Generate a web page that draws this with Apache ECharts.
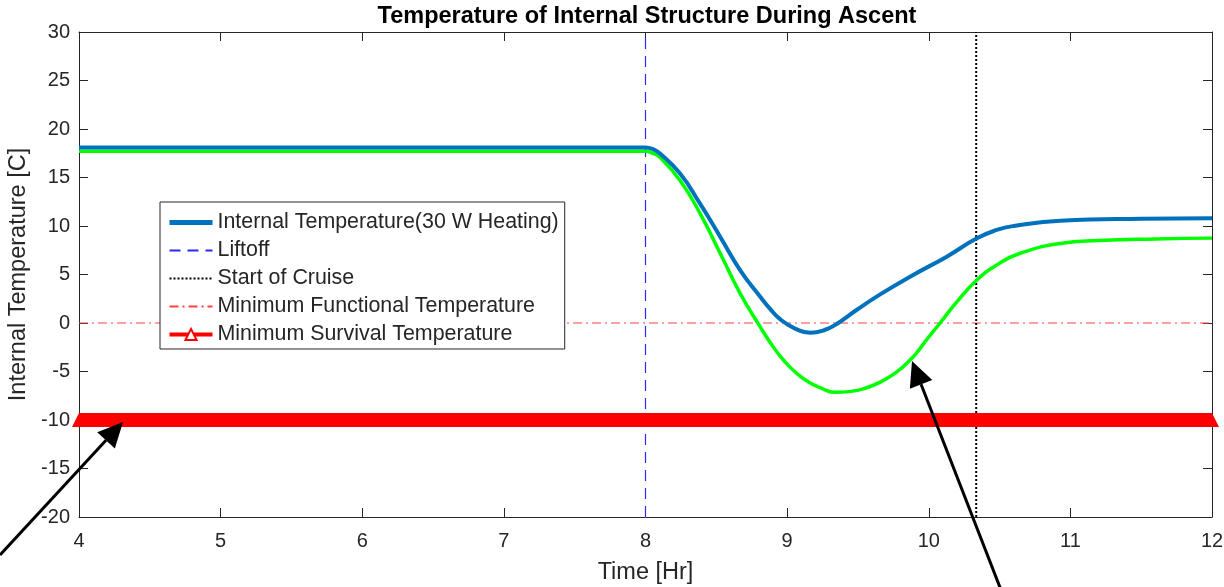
<!DOCTYPE html>
<html>
<head>
<meta charset="utf-8">
<script src="https://cdn.jsdelivr.net/npm/echarts@6/dist/echarts.min.js"></script>
<style>
html,body{margin:0;padding:0;background:#fff;}
#chart{width:1224px;height:587px;}
</style>
</head>
<body>
<div id="chart"></div>
<script>
// ---- data ----
const blueX = [4, 8.0, 8.05, 8.1, 8.244, 8.385, 8.527, 8.668, 8.81, 8.88, 8.95, 9.06, 9.162, 9.26, 9.35, 9.49, 9.657, 9.89, 10.127, 10.34, 10.48, 10.6, 10.93, 11.5, 12];
const blueY = [18.1, 18.1, 17.95, 17.5, 15.4, 12.3, 8.9, 5.46, 2.7, 1.45, 0.4, -0.6, -1.0, -0.75, -0.1, 1.34, 2.95, 4.95, 6.84, 8.73, 9.59, 10.0, 10.55, 10.75, 10.8];
const greenX = [4, 8.0, 8.05, 8.1, 8.244, 8.385, 8.527, 8.668, 8.81, 8.88, 8.95, 9.02, 9.09, 9.16, 9.233, 9.332, 9.45, 9.546, 9.65, 9.76, 9.87, 9.93, 9.986, 10.08, 10.2, 10.34, 10.48, 10.645, 10.93, 11.2, 11.6, 12];
const greenY = [17.7, 17.7, 17.5, 17.1, 14.7, 11.3, 7.2, 3.06, -0.4, -2.0, -3.4, -4.55, -5.45, -6.15, -6.65, -7.15, -7.05, -6.75, -6.15, -5.2, -3.8, -2.8, -1.7, 0.0, 2.2, 4.43, 5.98, 7.19, 8.2, 8.5, 8.67, 8.75];
const liftoffX = [8, 8];
const cruiseX = [10.335, 10.335];
const verticalY = [-20, 30];
const functionalX = [4, 12];
const functionalY = [0, 0];
const survivalX = [4, 12];
const survivalY = [-10, -10];
const xTicks = [4, 5, 6, 7, 8, 9, 10, 11, 12];
const yTicks = [-20, -15, -10, -5, 0, 5, 10, 15, 20, 25, 30];

const names = ['Internal Temperature(30 W Heating)', 'Liftoff', 'Start of Cruise', 'Minimum Functional Temperature', 'Minimum Survival Temperature'];

const zip = (xs, ys) => xs.map((x, i) => [x, ys[i]]);

const FONT = 'Liberation Sans, Arial, sans-serif';
const TXT = '#262626';

const chart = echarts.init(document.getElementById('chart'), null, {renderer: 'canvas'});

const baseX = {
  type: 'value', min: xTicks[0], max: xTicks[xTicks.length - 1], interval: 1,
  splitLine: {show: false},
  axisLine: {show: true, onZero: false, lineStyle: {color: TXT, width: 1}},
  axisTick: {show: true, inside: true, length: 9, lineStyle: {color: TXT}},
};
const baseY = {
  type: 'value', min: yTicks[0], max: yTicks[yTicks.length - 1], interval: 5,
  splitLine: {show: false},
  axisLine: {show: true, onZero: false, lineStyle: {color: TXT, width: 1}},
  axisTick: {show: true, inside: true, length: 9, lineStyle: {color: TXT}},
};

function arrow(tail, tip, len, wid) {
  const dx = tip[0] - tail[0], dy = tip[1] - tail[1];
  const L = Math.hypot(dx, dy);
  const ux = dx / L, uy = dy / L;
  const bx = tip[0] - len * ux, by = tip[1] - len * uy;
  const px = -uy, py = ux;
  return [
    {type: 'line', z: 100, shape: {x1: tail[0], y1: tail[1], x2: bx, y2: by}, style: {stroke: '#000', lineWidth: 3}},
    {type: 'polygon', z: 100, shape: {points: [tip, [bx + px * wid / 2, by + py * wid / 2], [bx - px * wid / 2, by - py * wid / 2]]}, style: {fill: '#000'}}
  ];
}

const noSym = {opacity: 0};

chart.setOption({
  animation: false,
  backgroundColor: '#fff',
  title: {
    text: 'Temperature of Internal Structure During Ascent',
    left: 642, textAlign: 'center', top: 0,
    textStyle: {fontFamily: FONT, fontSize: 23.5, fontWeight: 'bold', color: '#000'}
  },
  grid: {left: 79, right: 12, top: 32, bottom: 70, containLabel: false, outerBoundsMode: 'none'},
  xAxis: [
    Object.assign({}, baseX, {
      position: 'bottom',
      name: 'Time [Hr]', nameLocation: 'middle', nameGap: 44,
      nameTextStyle: {fontFamily: FONT, fontSize: 23.5, color: TXT},
      axisLabel: {show: true, margin: 14, fontFamily: FONT, fontSize: 20, color: TXT}
    }),
    Object.assign({}, baseX, {position: 'top', axisLabel: {show: false}})
  ],
  yAxis: [
    Object.assign({}, baseY, {
      position: 'left',
      name: 'Internal Temperature [C]', nameLocation: 'middle', nameGap: 45,
      nameTextStyle: {fontFamily: FONT, fontSize: 23.5, color: TXT},
      axisLabel: {show: true, margin: 9, fontFamily: FONT, fontSize: 20, color: TXT}
    }),
    Object.assign({}, baseY, {position: 'right', axisLabel: {show: false}})
  ],
  legend: {
    orient: 'vertical', left: 160, top: 202,
    padding: [10, 6, 4, 7],
    itemWidth: 43, itemHeight: 14, itemGap: 7,
    backgroundColor: '#fff', borderColor: TXT, borderWidth: 1,
    textStyle: {fontFamily: FONT, fontSize: 21.4, color: TXT},
    data: [
      {name: names[0], lineStyle: {width: 5}, itemStyle: noSym},
      {name: names[1], itemStyle: noSym},
      {name: names[2], itemStyle: noSym},
      {name: names[3], itemStyle: noSym},
      {name: names[4], lineStyle: {width: 4}, itemStyle: {color: '#fff', borderColor: '#ff0000', borderWidth: 2}}
    ],
    selectedMode: false,
    z: 50
  },
  series: [
    {
      name: names[4], type: 'line', data: zip(survivalX, survivalY),
      symbol: 'triangle', symbolSize: 14, showSymbol: true,
      itemStyle: {color: '#ff0000'},
      lineStyle: {color: '#ff0000', width: 14}, z: 3
    },
    {
      name: names[3], type: 'line', data: zip(functionalX, functionalY), showSymbol: false, symbol: 'none',
      lineStyle: {color: '#ff4040', width: 1, type: [9, 4, 2, 4]}, itemStyle: {color: '#ff4040'}, z: 2
    },
    {
      name: names[1], type: 'line', data: zip(liftoffX, verticalY), showSymbol: false, symbol: 'none',
      lineStyle: {color: '#2a2aff', width: 1.2, type: [11, 7]}, itemStyle: {color: '#2a2aff'}, z: 2
    },
    {
      name: names[2], type: 'line', data: zip(cruiseX, verticalY), showSymbol: false, symbol: 'none',
      lineStyle: {color: '#000', width: 2, type: [2, 2]}, itemStyle: {color: '#000'}, z: 2
    },
    {
      name: 'Internal Temperature (no heating)', type: 'line', data: zip(greenX, greenY), showSymbol: false, symbol: 'none',
      smooth: 0.5,
      lineStyle: {color: '#00ff00', width: 3.5}, itemStyle: {color: '#00ff00'}, z: 4
    },
    {
      name: names[0], type: 'line', data: zip(blueX, blueY), showSymbol: false, symbol: 'none',
      smooth: 0.5,
      lineStyle: {color: '#0072bd', width: 4}, itemStyle: {color: '#0072bd'}, z: 5
    }
  ],
  graphic: [].concat(
    arrow([0, 555], [123, 422], 25, 24),
    arrow([1001, 590], [912, 361], 25, 24)
  )
});
</script>
</body>
</html>
